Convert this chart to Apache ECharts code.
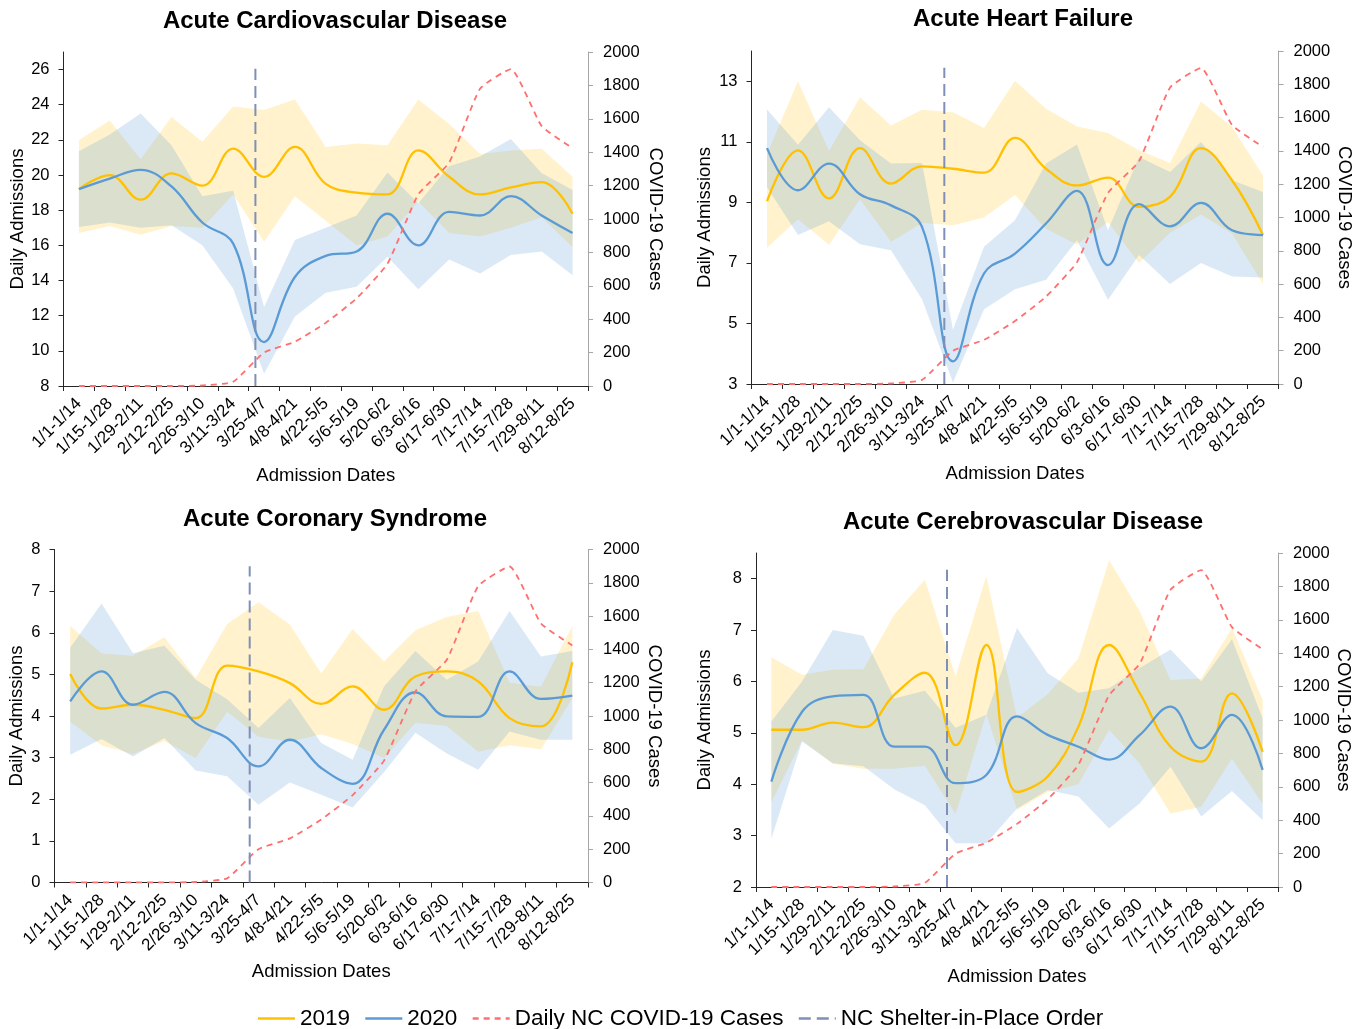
<!DOCTYPE html>
<html><head><meta charset="utf-8">
<script src="https://cdn.jsdelivr.net/npm/echarts@6/dist/echarts.min.js"></script>
<style>html,body{margin:0;padding:0;background:#fff}#chart{width:1360px;height:1029px}</style>
</head><body><div id="chart"></div>
<script>
// ---------- data ----------
const categories = ['1/1-1/14','1/15-1/28','1/29-2/11','2/12-2/25','2/26-3/10','3/11-3/24','3/25-4/7','4/8-4/21','4/22-5/5','5/6-5/19','5/20-6/2','6/3-6/16','6/17-6/30','7/1-7/14','7/15-7/28','7/29-8/11','8/12-8/25'];
const covidCases = [0,0,0,0,3,25,200,265,378,525,732,1148,1338,1780,1898,1556,1424];
const shelterOrderPos = 6.22;   // position on the date axis, in bi-weekly category units
const shelterLineTop = 1900;    // top of the shelter-order marker on the COVID-19 axis

// Acute Cardiovascular Disease
const cvd2019   = [19.2,20.0,18.6,20.1,19.4,21.5,19.9,21.6,19.5,19.0,18.9,21.4,19.9,18.9,19.3,19.6,17.8];
const cvd2019Hi = [22.0,23.1,20.9,23.3,21.9,23.9,23.7,24.3,21.6,21.8,21.7,24.3,22.9,21.2,21.4,21.5,19.9];
const cvd2019Lo = [16.7,17.1,16.6,17.1,17.0,18.9,16.2,18.8,17.4,16.0,16.5,18.5,16.7,16.5,17.0,17.6,15.9];
const cvd2020   = [19.2,19.8,20.3,19.35,17.3,16.1,10.5,14.2,15.4,15.65,17.8,16.0,17.9,17.7,18.8,17.7,16.7];
const cvd2020Hi = [21.35,22.3,23.5,21.7,18.8,19.1,12.5,16.3,17.0,17.7,20.15,18.4,20.5,21.05,22.05,20.1,19.15];
const cvd2020Lo = [17.05,17.3,17.0,17.15,16.0,13.55,8.7,11.95,13.3,13.65,15.35,13.5,15.2,14.4,15.45,15.65,14.3];
const cvdTicks  = [8,10,12,14,16,18,20,22,24,26];

// Acute Heart Failure
const hf2019   = [9.04,10.72,9.13,10.79,9.62,10.19,10.11,9.98,11.13,10.11,9.56,9.82,8.85,9.18,10.79,9.73,7.92];
const hf2019Hi = [10.6,13.0,10.7,12.47,11.54,12.06,11.98,11.46,13.02,12.09,11.51,11.29,10.72,10.3,12.33,11.49,9.89];
const hf2019Lo = [7.5,8.44,7.6,9.1,7.7,8.32,8.24,8.5,9.24,8.13,7.61,8.35,7.0,8.0,8.6,7.97,6.3];
const hf2020   = [10.79,9.4,10.28,9.27,8.9,8.19,3.75,6.65,7.31,8.3,9.38,6.93,8.94,8.21,8.98,8.08,7.92];
const hf2020Hi = [12.07,10.9,12.14,11.05,10.28,10.3,4.79,7.53,8.41,10.28,10.91,8.08,10.5,10.0,10.99,9.73,9.34];
const hf2020Lo = [9.5,7.92,8.38,7.62,7.42,5.8,3.05,5.47,6.13,6.44,7.75,5.78,7.26,6.3,7.0,6.55,6.52];
const hfTicks  = [3,5,7,9,11,13];

// Acute Coronary Syndrome
const acs2019   = [5.01,4.18,4.27,4.15,3.95,5.21,5.07,4.79,4.29,4.71,4.15,4.95,5.07,4.83,3.95,3.75,5.29];
const acs2019Hi = [6.16,5.5,5.45,5.89,4.91,6.21,6.73,6.2,5.02,6.09,5.31,6.06,6.38,6.52,4.8,4.7,6.16];
const acs2019Lo = [3.86,3.3,3.09,3.4,2.99,4.1,3.5,3.38,3.56,3.33,2.99,3.84,3.76,3.14,3.3,3.2,4.42];
const acs2020   = [4.35,5.07,4.27,4.58,3.83,3.47,2.79,3.43,2.75,2.37,3.67,4.57,3.99,3.98,5.07,4.41,4.49];
const acs2020Hi = [5.64,6.7,5.51,5.69,4.87,4.4,3.71,4.43,3.35,2.95,4.71,5.56,4.87,5.31,6.52,5.43,5.56];
const acs2020Lo = [3.07,3.45,3.03,3.47,2.69,2.55,1.87,2.4,2.11,1.8,2.65,3.6,3.1,2.71,3.63,3.43,3.43];
const acsTicks  = [0,1,2,3,4,5,6,7,8];

// Acute Cerebrovascular Disease
const cbv2019   = [5.06,5.06,5.2,5.11,5.74,6.17,4.76,6.71,3.85,4.15,5.12,6.71,5.77,4.73,4.44,5.77,4.63];
const cbv2019Hi = [6.47,6.13,6.23,6.24,7.3,7.98,6.1,8.05,5.3,5.75,6.45,8.36,7.36,6.03,6.06,7.04,5.64];
const cbv2019Lo = [3.65,4.85,4.4,4.3,4.3,4.36,3.42,5.37,3.5,3.85,4.0,5.06,4.4,3.43,3.56,4.5,3.62];
const cbv2020   = [4.05,5.41,5.71,5.74,4.73,4.73,4.02,4.18,5.32,4.96,4.73,4.48,4.96,5.51,4.7,5.35,4.28];
const cbv2020Hi = [5.22,6.0,7.0,6.89,5.67,5.82,5.1,5.35,7.04,6.16,5.78,5.87,6.26,6.62,6.0,6.82,5.28];
const cbv2020Lo = [2.94,4.83,4.41,4.35,3.9,3.59,2.85,2.85,3.53,3.89,3.76,3.14,3.63,4.34,3.37,3.87,3.3];
const cbvTicks  = [2,3,4,5,6,7,8];

const titles = ['Acute Cardiovascular Disease','Acute Heart Failure','Acute Coronary Syndrome','Acute Cerebrovascular Disease'];

// ---------- assembly ----------
const panels = [
  {m19:cvd2019,h19:cvd2019Hi,l19:cvd2019Lo,m20:cvd2020,h20:cvd2020Hi,l20:cvd2020Lo,ticks:cvdTicks,yMin:8,yMax:27,yInt:2},
  {m19:hf2019,h19:hf2019Hi,l19:hf2019Lo,m20:hf2020,h20:hf2020Hi,l20:hf2020Lo,ticks:hfTicks,yMin:3,yMax:14,yInt:2},
  {m19:acs2019,h19:acs2019Hi,l19:acs2019Lo,m20:acs2020,h20:acs2020Hi,l20:acs2020Lo,ticks:acsTicks,yMin:0,yMax:8,yInt:1},
  {m19:cbv2019,h19:cbv2019Hi,l19:cbv2019Lo,m20:cbv2020,h20:cbv2020Hi,l20:cbv2020Lo,ticks:cbvTicks,yMin:2,yMax:8.5,yInt:1}
];
const layout = [
  {left:63.5, top:52,  width:524.5, height:334, tx:335,  ty:9,   lg:36,   rg:58},
  {left:751.5,top:51,  width:527,   height:333, tx:1023, ty:7,   lg:37,   rg:55},
  {left:54.5, top:549.5,width:533.5,height:333, tx:335,  ty:507, lg:28.5, rg:57},
  {left:756,  top:553, width:522,   height:334, tx:1023, ty:510, lg:42,   rg:54}
];

const FONT = '"Liberation Sans", Arial, sans-serif';
const C19 = '#FFC000', C20 = '#5B9BD5', CCOV = '#FF6F6F', CSH = '#7F8FB5';
const grid=[], xAxis=[], yAxis=[], series=[], title=[];
const nameStyle = {fontFamily:FONT, fontSize:18.5, color:'#000'};

panels.forEach((p,i)=>{
  const L = layout[i];
  grid.push({left:L.left, top:L.top, width:L.width, height:L.height, containLabel:false});
  title.push({text:titles[i], left:L.tx, top:L.ty, textAlign:'center', padding:0,
    textStyle:{fontFamily:FONT, fontSize:24, fontWeight:'bold', color:'#000'}});
  xAxis.push({type:'category', gridIndex:i, data:categories, boundaryGap:true,
    axisLine:{lineStyle:{color:'#262626', width:1}},
    axisTick:{show:true, length:5, interval:0, lineStyle:{color:'#262626'}},
    axisLabel:{interval:0, rotate:45, fontFamily:FONT, fontSize:17, color:'#000', margin:15},
    splitLine:{show:false},
    name:'Admission Dates', nameLocation:'middle', nameGap:80, nameTextStyle:nameStyle});
  xAxis.push({type:'value', gridIndex:i, min:0, max:categories.length, show:false});
  yAxis.push({type:'value', gridIndex:i, position:'left', min:p.yMin, max:p.yMax, interval:p.yInt,
    axisLine:{show:true, lineStyle:{color:'#262626'}},
    axisTick:{show:true, length:5, customValues:p.ticks, lineStyle:{color:'#262626'}},
    axisLabel:{customValues:p.ticks, fontFamily:FONT, fontSize:16.5, color:'#000', margin:14},
    splitLine:{show:false},
    name:'Daily Admissions', nameLocation:'middle', nameGap:L.lg, nameRotate:90, nameTextStyle:nameStyle});
  yAxis.push({type:'value', gridIndex:i, position:'right', min:0, max:2000, interval:200,
    axisLine:{show:true, lineStyle:{color:'#A6A6A6'}},
    axisTick:{show:true, length:5, lineStyle:{color:'#A6A6A6'}},
    axisLabel:{fontFamily:FONT, fontSize:16.5, color:'#000', margin:15, formatter:v=>String(v)},
    splitLine:{show:false},
    name:'COVID-19 Cases', nameLocation:'middle', nameGap:L.rg, nameRotate:-90, nameTextStyle:nameStyle});

  const xa = 2*i, ya = 2*i;
  const band = (lo, hi, key, color) => {
    series.push({type:'line', xAxisIndex:xa, yAxisIndex:ya, data:lo, stack:key+i, symbol:'none',
      lineStyle:{width:0, opacity:0}, silent:true, z:1});
    series.push({type:'line', xAxisIndex:xa, yAxisIndex:ya, data:hi.map((v,k)=>+(v-lo[k]).toFixed(4)),
      stack:key+i, symbol:'none', lineStyle:{width:0, opacity:0},
      areaStyle:{color:color, opacity:1}, silent:true, z:1});
  };
  band(p.l19, p.h19, 'b19_', 'rgba(255,192,0,0.2)');
  band(p.l20, p.h20, 'b20_', 'rgba(91,155,213,0.22)');
  series.push({name:'2019', type:'line', xAxisIndex:xa, yAxisIndex:ya, data:p.m19, smooth:0.4, symbol:'none',
    lineStyle:{color:C19, width:2.3}, itemStyle:{color:C19}, z:3});
  series.push({name:'2020', type:'line', xAxisIndex:xa, yAxisIndex:ya, data:p.m20, smooth:0.4, symbol:'none',
    lineStyle:{color:C20, width:2.3}, itemStyle:{color:C20}, z:3});
  series.push({name:'Daily NC COVID-19 Cases', type:'line', xAxisIndex:xa+1, yAxisIndex:ya+1,
    data:covidCases.map((v,k)=>[k+0.5, v]), smooth:0.15, symbol:'none',
    lineStyle:{color:CCOV, width:1.8, type:[6,5]}, itemStyle:{color:CCOV}, z:4});
  series.push({name:'NC Shelter-in-Place Order', type:'line', xAxisIndex:xa+1, yAxisIndex:ya+1,
    data:[[shelterOrderPos,0],[shelterOrderPos,shelterLineTop]], symbol:'none',
    lineStyle:{color:CSH, width:2, type:[12,6]}, itemStyle:{color:CSH}, z:4});
});

const chart = echarts.init(document.getElementById('chart'), null, {renderer:'canvas'});
chart.setOption({
  animation:false,
  backgroundColor:'#fff',
  title, grid, xAxis, yAxis, series,
  legend:{data:['2019','2020','Daily NC COVID-19 Cases','NC Shelter-in-Place Order'],
    left:'center', top:1002, itemWidth:37, itemHeight:14, itemGap:14,
    itemStyle:{opacity:0}, lineStyle:{width:2.6},
    textStyle:{fontFamily:FONT, fontSize:22.5, color:'#000'}}
});
</script></body></html>
